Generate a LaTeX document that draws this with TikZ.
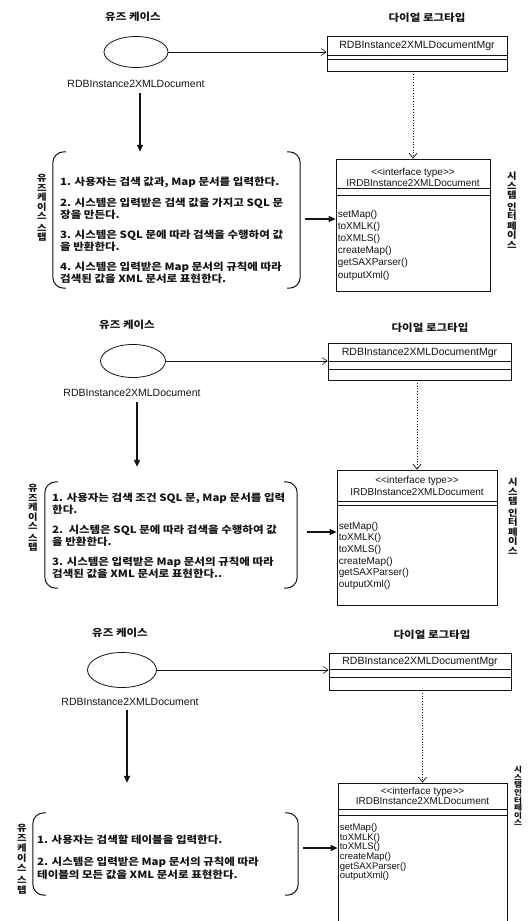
\documentclass[tikz,border=0pt]{standalone}
\usepackage{fontspec}
\setmainfont{Liberation Sans}
\newfontfamily\krfont[FakeStretch=1.15]{Noto Sans CJK KR}
\usetikzlibrary{arrows.meta,calc,positioning,shapes.geometric}
\definecolor{ink}{RGB}{20,20,20}
\tikzset{
  ucase/.style={draw=ink, ellipse, line width=0.8pt, inner sep=0pt},
  clsbox/.style={draw=ink, line width=0.7pt, inner sep=0pt},
  clsname/.style={font=\fontsize{10.5}{11}\selectfont, inner sep=0pt, text=ink},
  ifname/.style={font=\fontsize{10}{#1}\selectfont, align=center, inner sep=0pt, text=ink},
  ifname/.default=11,
  ops/.style={font=\fontsize{10}{#1}\selectfont, align=left, anchor=north west, inner sep=0pt, text=ink},
  ops/.default=12,
  ttl/.style={font=\krfont\bfseries\fontsize{10}{11}\selectfont, inner sep=0pt, text=ink},
  lbl/.style={font=\fontsize{10.5}{12}\selectfont, inner sep=0pt, text=ink},
  stepbox/.style={inner sep=0pt},
  steptxt/.style={font=\krfont\bfseries\fontsize{10}{#1}\selectfont, align=left, anchor=north west, inner sep=0pt, text=ink},
  steptxt/.default=10,
  vlbl/.style={font=\krfont\bfseries\fontsize{9}{#1}\selectfont, align=center, inner sep=0pt, text=ink},
  vlbl/.default=9.5,
  assoc/.style={-{Straight Barb[length=5pt,width=7pt]}, line width=0.6pt, draw=ink},
  realize/.style={dotted, -{Straight Barb[length=5pt,width=8pt]}, line width=0.7pt, draw=ink},
  flow/.style={-{Triangle[length=7pt,width=6pt]}, line width=1.3pt, draw=ink},
  brk/.style={line width=1pt, rounded corners=11pt, draw=ink},
  cmp/.style={line width=0.7pt, draw=ink},
}

\begin{document}
\begin{tikzpicture}[x=1pt,y=-1pt]
  \useasboundingbox (0,0) rectangle (532,921);

  % ---- first use case
  \node[ttl] (ucAttl) at (133,17) {유즈 케이스};
  \node[ttl] (dlgAttl) at (427,18) {다이얼 로그타입};
  \node[ucase, minimum width=64pt, minimum height=31pt] (ucA) at (136,52) {};
  \node[lbl] (ucAlbl) at (136,84) {RDBInstance2XMLDocument};
  \node[clsbox, minimum width=180pt, minimum height=35pt] (mgrA) at (417,53.5) {};
  \node[clsname] (mgrAname) at ($(mgrA.north)+(0,10)$) {RDBInstance2XMLDocumentMgr};
  \draw[cmp] ($(mgrA.north west)+(0,20)$) -- ($(mgrA.north east)+(0,20)$);
  \draw[cmp] ($(mgrA.north west)+(0,24)$) -- ($(mgrA.north east)+(0,24)$);
  \draw[assoc] (ucA.east) -- (ucA.east -| mgrA.west);

  \node[stepbox, minimum width=247pt, minimum height=136pt] (stepA) at (176.5,220) {};
  \draw[brk] ($(stepA.north west)+(13,0)$) -- (stepA.north west) -- (stepA.south west) -- ++(13,0);
  \draw[brk] ($(stepA.north east)+(-13,0)$) -- (stepA.north east) -- (stepA.south east) -- ++(-13,0);
  \node[steptxt] (stepA1) at (60,177) {1. 사용자는 검색 값과, Map 문서를 입력한다.};
  \node[steptxt] (stepA2) at (60,198) {2. 시스템은 입력받은 검색 값을 가지고 SQL 문\\장을 만든다.};
  \node[steptxt] (stepA3) at (60,230) {3. 시스템은 SQL 문에 따라 검색을 수행하여 값\\을 반환한다.};
  \node[steptxt] (stepA4) at (60,262) {4. 시스템은 입력받은 Map 문서의 규칙에 따라\\검색된 값을 XML 문서로 표현한다.};
  \node[vlbl] (stepAv) at (42,208) {유\\즈\\케\\이\\스\\[2pt]스\\텝};
  \draw[flow, shorten <=5pt] ([xshift=4pt]ucAlbl.south) -- ([xshift=4pt]ucAlbl.south |- stepA.north);

  \node[clsbox, minimum width=154pt, minimum height=132pt] (ifA) at (413,225) {};
  \node[ifname] (ifAname) at ($(ifA.north)+(0,18.5)$) {<{}<interface type>{}>\\IRDBInstance2XMLDocument};
  \draw[cmp] ($(ifA.north west)+(0,30)$) -- ($(ifA.north east)+(0,30)$);
  \draw[cmp] ($(ifA.north west)+(0,37)$) -- ($(ifA.north east)+(0,37)$);
  \node[ops=12.2] (ifAops) at ($(ifA.north west)+(2,51)$) {setMap()\\toXMLK()\\toXMLS()\\createMap()\\getSAXParser()\\outputXml()};
  \node[vlbl] (ifAv) at (512,210) {시\\스\\템\\[2pt]인\\터\\페\\이\\스};
  \draw[realize] (ifA.north |- mgrA.south) -- (ifA.north);
  \coordinate (stepAout) at ($(stepA.east)+(5,-1)$);
  \draw[flow] (stepAout) -- (stepAout -| ifA.west);

  % ---- second use case
  \node[ttl] (ucBttl) at (127,325) {유즈 케이스};
  \node[ttl] (dlgBttl) at (430,328) {다이얼 로그타입};
  \node[ucase, minimum width=65pt, minimum height=33pt] (ucB) at (133,361) {};
  \node[lbl] (ucBlbl) at (132,393) {RDBInstance2XMLDocument};
  \node[clsbox, minimum width=183pt, minimum height=37pt] (mgrB) at (419.5,361.5) {};
  \node[clsname] (mgrBname) at ($(mgrB.north)+(0,10)$) {RDBInstance2XMLDocumentMgr};
  \draw[cmp] ($(mgrB.north west)+(0,19)$) -- ($(mgrB.north east)+(0,19)$);
  \draw[cmp] ($(mgrB.north west)+(0,27)$) -- ($(mgrB.north east)+(0,27)$);
  \draw[assoc] (ucB.east) -- (ucB.east -| mgrB.west);

  \node[stepbox, minimum width=252pt, minimum height=106pt] (stepB) at (171,535) {};
  \draw[brk] ($(stepB.north west)+(13,0)$) -- (stepB.north west) -- (stepB.south west) -- ++(13,0);
  \draw[brk] ($(stepB.north east)+(-13,0)$) -- (stepB.north east) -- (stepB.south east) -- ++(-13,0);
  \node[steptxt=12] (stepB1) at (52,493) {1. 사용자는 검색 조건 SQL 문, Map 문서를 입력\\한다.};
  \node[steptxt=12] (stepB2) at (52,525) {2.\ \ 시스템은 SQL 문에 따라 검색을 수행하여 값\\을 반환한다.};
  \node[steptxt=12] (stepB3) at (52,557) {3. 시스템은 입력받은 Map 문서의 규칙에 따라\\검색된 값을 XML 문서로 표현한다..};
  \node[vlbl] (stepBv) at (33,518) {유\\즈\\케\\이\\스\\[2pt]스\\텝};
  \draw[flow, shorten <=5pt, shorten >=15pt] ([xshift=5pt]ucBlbl.south) -- ([xshift=5pt]ucBlbl.south |- stepB.north);

  \node[clsbox, minimum width=160pt, minimum height=135pt] (ifB) at (417,537.5) {};
  \node[ifname=12] (ifBname) at ($(ifB.north)+(0,16)$) {<{}<interface type>{}>\\IRDBInstance2XMLDocument};
  \draw[cmp] ($(ifB.north west)+(0,32)$) -- ($(ifB.north east)+(0,32)$);
  \draw[cmp] ($(ifB.north west)+(0,36)$) -- ($(ifB.north east)+(0,36)$);
  \node[ops=11.7] (ifBops) at ($(ifB.north west)+(2,52)$) {setMap()\\toXMLK()\\toXMLS()\\createMap()\\getSAXParser()\\outputXml()};
  \node[vlbl] (ifBv) at (513,516) {시\\스\\템\\[2pt]인\\터\\페\\이\\스};
  \draw[realize] (ifB.north |- mgrB.south) -- (ifB.north);
  \coordinate (stepBout) at ($(stepB.east)+(10,-3)$);
  \draw[flow] (stepBout) -- (stepBout -| ifB.west);

  % ---- third use case
  \node[ttl] (ucCttl) at (120,633) {유즈 케이스};
  \node[ttl] (dlgCttl) at (432,635) {다이얼 로그타입};
  \node[ucase, minimum width=69pt, minimum height=35pt] (ucC) at (122,670) {};
  \node[lbl] (ucClbl) at (130,702) {RDBInstance2XMLDocument};
  \node[clsbox, minimum width=182pt, minimum height=37pt] (mgrC) at (420,671.5) {};
  \node[clsname] (mgrCname) at ($(mgrC.north)+(0,9)$) {RDBInstance2XMLDocumentMgr};
  \draw[cmp] ($(mgrC.north west)+(0,17)$) -- ($(mgrC.north east)+(0,17)$);
  \draw[cmp] ($(mgrC.north west)+(0,25)$) -- ($(mgrC.north east)+(0,25)$);
  \draw[assoc] (ucC.east) -- (ucC.east -| mgrC.west);

  \node[stepbox, minimum width=265pt, minimum height=82pt] (stepC) at (165.5,854) {};
  \draw[brk] ($(stepC.north west)+(13,0)$) -- (stepC.north west) -- (stepC.south west) -- ++(13,0);
  \draw[brk] ($(stepC.north east)+(-13,0)$) -- (stepC.north east) -- (stepC.south east) -- ++(-13,0);
  \node[steptxt=13] (stepC1) at (37,835) {1. 사용자는 검색할 테이블을 입력한다.};
  \node[steptxt=13] (stepC2) at (37,857) {2. 시스템은 입력받은 Map 문서의 규칙에 따라\\테이블의 모든 값을 XML 문서로 표현한다.};
  \node[vlbl=10] (stepCv) at (22,859) {유\\즈\\케\\이\\스\\[2pt]스\\텝};
  \draw[flow, shorten <=4pt, shorten >=30pt] ([xshift=-3pt]ucClbl.south) -- ([xshift=-3pt]ucClbl.south |- stepC.north);

  \node[clsbox, minimum width=169pt, minimum height=142pt] (ifC) at (422.5,854) {};
  \node[ifname=9.5] (ifCname) at ($(ifC.north)+(0,13.5)$) {<{}<interface type>{}>\\IRDBInstance2XMLDocument};
  \draw[cmp] ($(ifC.north west)+(0,27)$) -- ($(ifC.north east)+(0,27)$);
  \draw[cmp] ($(ifC.north west)+(0,33)$) -- ($(ifC.north east)+(0,33)$);
  \node[ops=9.6, font=\fontsize{9.5}{9.6}\selectfont] (ifCops) at ($(ifC.north west)+(2,41)$) {setMap()\\toXMLK()\\toXMLS()\\createMap()\\getSAXParser()\\outputXml()};
  \node[vlbl=7.4, font=\krfont\bfseries\fontsize{7.5}{7.4}\selectfont] (ifCv) at (518,796) {시\\스\\템\\[1pt]인\\터\\페\\이\\스};
  \draw[realize] (ifC.north |- mgrC.south) -- (ifC.north);
  \coordinate (stepCout) at ($(stepC.east)+(5,-6)$);
  \draw[flow] (stepCout) -- (stepCout -| ifC.west);
\end{tikzpicture}
\end{document}
